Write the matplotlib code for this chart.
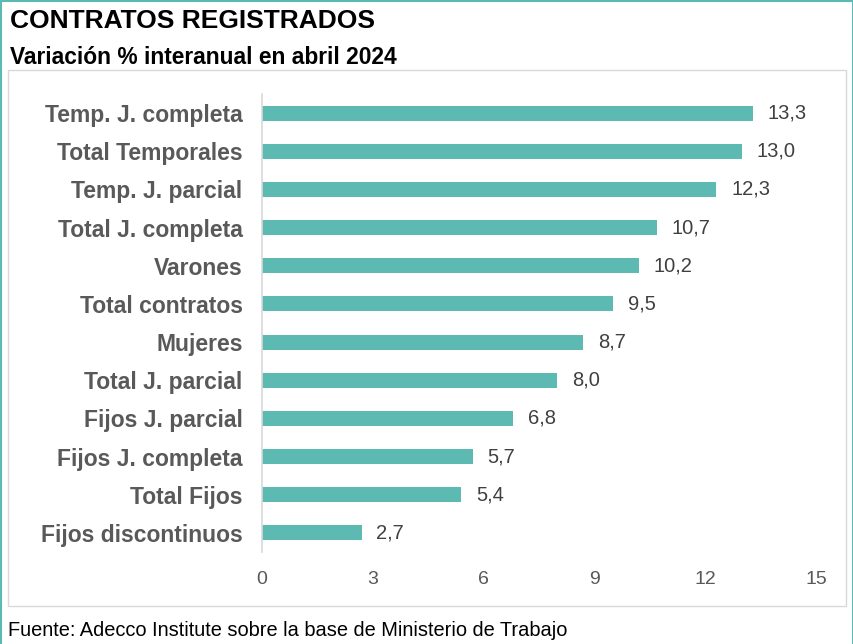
import matplotlib
matplotlib.use("Agg")
import matplotlib.pyplot as plt
from matplotlib.patches import Rectangle

categories = ["Temp. J. completa", "Total Temporales", "Temp. J. parcial", "Total J. completa",
              "Varones", "Total contratos", "Mujeres", "Total J. parcial", "Fijos J. parcial",
              "Fijos J. completa", "Total Fijos", "Fijos discontinuos"]
values = [13.3, 13.0, 12.3, 10.7, 10.2, 9.5, 8.7, 8.0, 6.8, 5.7, 5.4, 2.7]
xticks = [0, 3, 6, 9, 12, 15]

plt.rcParams['font.family'] = ['Liberation Sans', 'DejaVu Sans']

teal = "#5DBAB2"
fig = plt.figure(figsize=(8.54, 6.44), dpi=100)
ax = fig.add_axes([262/854, 1-552/644, (816-262)/854, (552-94)/644])

y = list(range(len(categories)))
ax.barh(y, values, height=0.39, color=teal)
ax.set_ylim(len(categories)-0.5, -0.5)
ax.set_xlim(0, 15)
ax.set_yticks(y)
ax.set_yticklabels(categories, fontsize=16.5, fontweight='bold', color='#595959')
ax.set_xticks(xticks)
ax.set_xticklabels([str(t) for t in xticks], fontsize=14, color='#595959')
ax.tick_params(axis='both', length=0)
ax.tick_params(axis='y', pad=14)
ax.tick_params(axis='x', pad=14)
for s in ['top', 'right', 'bottom']:
    ax.spines[s].set_visible(False)
ax.spines['left'].set_color('#D9D9D9')
ax.spines['left'].set_linewidth(1.2)
for yi, v in zip(y, values):
    ax.text(v + 0.4, yi, f"{v:.1f}".replace('.', ','), va='center', ha='left',
            fontsize=14.5, color='#404040')

# inner gray box
fig.patches.append(Rectangle((8/854, 1-606/644), (846-8)/854, (606-70)/644,
                             transform=fig.transFigure, fill=False, edgecolor='#D9D9D9', lw=1))
# outer teal border
fig.patches.append(Rectangle((1/854, -0.01), 852/854, 1-1/644+0.01,
                             transform=fig.transFigure, fill=False, edgecolor=teal, lw=1.5))

fig.text(10/854, 1-21/644, "CONTRATOS REGISTRADOS", fontsize=19, fontweight='bold',
         color='black', va='center', ha='left')
fig.text(10/854, 1-57/644, "Variación % interanual en abril 2024", fontsize=16.4, fontweight='bold',
         color='black', va='center', ha='left')
fig.text(8/854, 1-630/644, "Fuente: Adecco Institute sobre la base de Ministerio de Trabajo",
         fontsize=14.4, color='black', va='center', ha='left')

fig.savefig("out.png", dpi=100)
